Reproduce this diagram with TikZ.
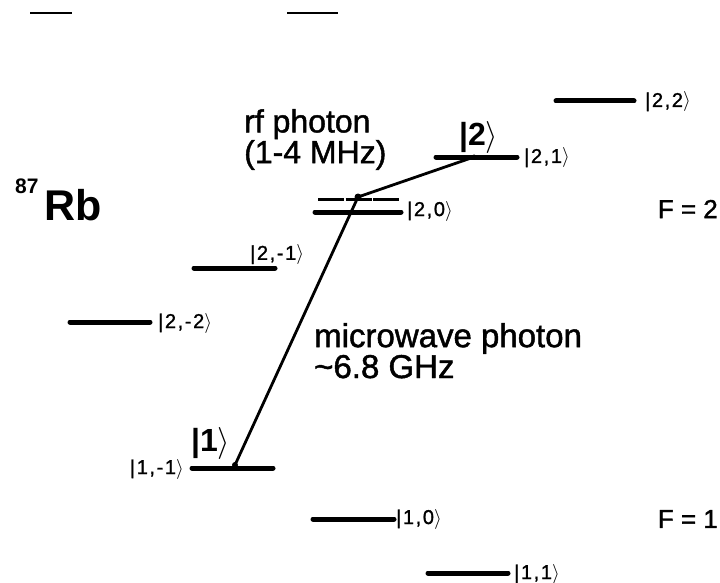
\RequirePackage{fix-cm}
\documentclass[tikz,border=0pt]{standalone}
\usepackage{fontspec}
\setmainfont{Liberation Sans}
\newfontfamily\ketfont[LetterSpace=8,FakeBold=1.2]{Liberation Sans}
\newfontfamily\txtfont[FakeBold=1.4]{Liberation Sans}
\tikzset{
  level/.style={line width=5pt, line cap=round},
  trans/.style={line width=2.8pt},
  ket/.style={font=\ketfont\fontsize{20}{23}\selectfont, inner sep=0pt},
  bigket/.style={font=\fontsize{32}{36}\selectfont\bfseries, inner sep=0pt},
  lbl/.style={font=\txtfont\fontsize{32}{28}\selectfont, inner sep=0pt, align=left},
  mwlbl/.style={lbl, font=\txtfont\fontsize{33}{28}\selectfont},
  flbl/.style={font=\txtfont\fontsize{26}{30}\selectfont, inner sep=0pt},
  scanmark/.style={line width=2.2pt},
}
\newcommand{\kt}[1]{|#1\ensuremath{\rangle}}
\begin{document}
\begin{tikzpicture}[x=1pt,y=-1pt]
\useasboundingbox (0,0) rectangle (720,583);
% marks at the top edge
\draw[scanmark] (30,13) -- (72,13);
\draw[scanmark] (287,13) -- (338,13);
% levels F=2
\coordinate (a22) at (556,101);  \coordinate (b22) at (634,101);
\coordinate (a21) at (436,157);  \coordinate (b21) at (517,157);
\coordinate (a20) at (315,212);  \coordinate (b20) at (401,212);
\coordinate (a20d) at (318,199); \coordinate (b20d) at (400,199);
\coordinate (a2m1) at (194,268); \coordinate (b2m1) at (275,268);
\coordinate (a2m2) at (70,322);  \coordinate (b2m2) at (150,322);
% levels F=1
\coordinate (a1m1) at (192,468); \coordinate (b1m1) at (273,468);
\coordinate (a10) at (313,519);  \coordinate (b10) at (394,519);
\coordinate (a11) at (428,573);  \coordinate (b11) at (508,573);
\foreach \l in {22,21,20,2m1,2m2,1m1,10,11}{\draw[level] (a\l) -- (b\l);}
\draw[line width=3pt, dash pattern=on 26pt off 1.5pt] (a20d) -- (b20d);
% transitions
\coordinate (p1) at (235,465);
\coordinate (p0) at (358,197);
\coordinate (p2) at (474,157);
\draw[trans] (p1) -- (p0) -- (p2);
\fill (p1) circle (3); \fill (p0) circle (3.5); \fill (p2) circle (2.5);
% kets
\node[ket, anchor=west] (k22) at (645,102) {\kt{2,2}};
\node[ket, anchor=west] (k21) at (524,158) {\kt{2,1}};
\node[ket, anchor=west] (k20) at (407,211) {\kt{2,0}};
\node[ket, anchor=south west] (k2m1) at (250,265) {\kt{2,-1}};
\node[ket, anchor=west] (k2m2) at (158,323) {\kt{2,-2}};
\node[ket, anchor=east] (k1m1) at (184,469) {\kt{1,-1}};
\node[ket, anchor=west] (k10) at (396,519) {\kt{1,0}};
\node[ket, anchor=west] (k11) at (514,574) {\kt{1,1}};
\node[bigket, anchor=south west] (ket2) at (459,154) {\kt{2}};
\node[bigket, anchor=south west] (ket1) at (191,460) {\kt{1}};
% text
\node[lbl, anchor=north west] (rf) at (244,109) {rf photon\\(1-4 MHz)};
\node[mwlbl, anchor=north west] (mw) at (314,323) {microwave photon\\\textasciitilde 6.8 GHz};
\node[flbl, anchor=east] (F2) at (718,209) {F = 2};
\node[flbl, anchor=east] (F1) at (718,519) {F = 1};
\node[anchor=base west, inner sep=0pt] (rb) at (15,220)
  {\bfseries\fontsize{21}{24}\selectfont\raisebox{27pt}{87}\kern6pt\fontsize{43}{47}\selectfont Rb};
\end{tikzpicture}
\end{document}
